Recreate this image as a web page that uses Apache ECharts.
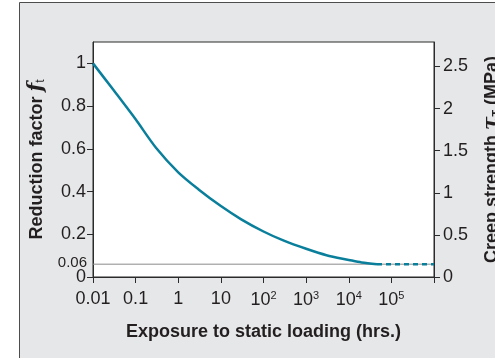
<!DOCTYPE html>
<html>
<head>
<meta charset="utf-8">
<script src="https://cdn.jsdelivr.net/npm/echarts@6/dist/echarts.min.js"></script>
<style>
  html, body { margin: 0; padding: 0; background: #fff; }
  #chart { width: 495px; height: 358px; }
</style>
</head>
<body>
<div id="chart"></div>
<script>
// exposure time (hrs) and reduction factor f_t
const exposureHrs = [0.01, 0.03, 0.1, 0.3, 1, 3, 10, 30, 100, 300, 1000, 3000, 10000, 20000, 46000];
const reductionFactor = [1.0, 0.876, 0.738, 0.605, 0.49, 0.41, 0.332, 0.27, 0.213, 0.17, 0.132, 0.102, 0.08, 0.068, 0.06];
// dashed tail where the factor stays at the limit
const tailHrs = [46000, 1000000];
const tailFactor = [0.06, 0.06];
const limitFactor = 0.06;
const leftTicks = [0, 0.2, 0.4, 0.6, 0.8, 1];
const rightTicks = [0, 0.5, 1, 1.5, 2, 2.5];

const FONT = "'Liberation Sans', Arial, sans-serif";
const TEXT = '#231f20';
const CURVE = '#0a7f9c';

const chart = echarts.init(document.getElementById('chart'));

const option = {
  animation: false,
  textStyle: {fontFamily: FONT},
  graphic: [
    {
      type: 'rect',
      z: -100,
      shape: {x: 19.5, y: 2.5, width: 520, height: 400},
      style: {fill: '#e6e7e8', stroke: '#4d4d4d', lineWidth: 1}
    }
  ],
  grid: {
    left: 93,
    right: 61,
    top: 42,
    bottom: 81,
    outerBoundsMode: 'none',
    show: true,
    backgroundColor: '#ffffff',
    borderColor: '#2b2b2b',
    borderWidth: 1
  },
  xAxis: {
    type: 'log',
    logBase: 10,
    min: 0.01,
    max: 1000000,
    name: 'Exposure to static loading (hrs.)',
    nameLocation: 'middle',
    nameGap: 46,
    nameTextStyle: {color: TEXT, fontSize: 18, fontWeight: 'bold', fontFamily: FONT},
    axisLine: {lineStyle: {color: '#2b2b2b'}},
    axisTick: {show: true, length: 6, lineStyle: {color: '#2b2b2b'}},
    minorTick: {show: false},
    splitLine: {show: false},
    axisLabel: {
      color: TEXT,
      fontSize: 18,
      margin: 13,
      fontFamily: FONT,
      formatter: function (v) {
        const e = Math.round(Math.log10(v));
        if (e >= 6) return '';
        if (e === -2) return '0.01';
        if (e === -1) return '0.1';
        if (e === 0) return '1';
        if (e === 1) return '10';
        return '{b|10}{s|' + e + '}';
      },
      rich: {
        b: {fontSize: 18, color: TEXT, fontFamily: FONT, lineHeight: 20},
        s: {fontSize: 11, color: TEXT, fontFamily: FONT, verticalAlign: 'top', lineHeight: 20, padding: [0, 0, 8, 0]}
      }
    }
  },
  yAxis: [
    {
      type: 'value',
      min: 0,
      max: 1.1,
      position: 'left',
      name: '{b|Reduction factor }{i|f}{t|t}',
      nameLocation: 'middle',
      nameGap: 44,
      nameTextStyle: {
        color: TEXT,
        rich: {
          b: {fontSize: 18, fontWeight: 'bold', color: TEXT, fontFamily: FONT},
          i: {fontSize: 20, fontWeight: 'bold', fontStyle: 'italic', color: TEXT, fontFamily: "'DejaVu Serif', serif"},
          t: {fontSize: 12, color: TEXT, fontFamily: FONT, verticalAlign: 'bottom', padding: [6, 0, 0, 0]}
        }
      },
      axisLine: {show: true, lineStyle: {color: '#2b2b2b'}},
      axisTick: {show: true, length: 6, customValues: leftTicks, lineStyle: {color: '#2b2b2b'}},
      splitLine: {show: false},
      axisLabel: {
        color: TEXT,
        fontSize: 18,
        margin: 7,
        fontFamily: FONT,
        customValues: leftTicks.concat([limitFactor]),
        formatter: function (v) {
          if (Math.abs(v - limitFactor) < 1e-9) return '{s|0.06}';
          return String(Math.round(v * 10) / 10);
        },
        rich: {
          s: {fontSize: 15, color: TEXT, fontFamily: FONT, padding: [0, -1, 2, 0]}
        }
      }
    },
    {
      type: 'value',
      min: 0,
      max: 2.79,
      position: 'right',
      name: '{b|Creep strength }{i|τ}{t|T}{b| (MPa)}',
      nameLocation: 'middle',
      nameGap: 48,
      nameRotate: 90,
      nameTextStyle: {
        color: TEXT,
        rich: {
          b: {fontSize: 18, fontWeight: 'bold', color: TEXT, fontFamily: FONT},
          i: {fontSize: 20, fontWeight: 'bold', fontStyle: 'italic', color: TEXT, fontFamily: "'DejaVu Serif', serif"},
          t: {fontSize: 11, fontWeight: 'bold', color: TEXT, fontFamily: FONT, verticalAlign: 'bottom', padding: [6, 0, 0, 0]}
        }
      },
      axisLine: {show: true, lineStyle: {color: '#2b2b2b'}},
      axisTick: {show: true, length: 6, customValues: rightTicks, lineStyle: {color: '#2b2b2b'}},
      splitLine: {show: false},
      axisLabel: {
        color: TEXT,
        fontSize: 18,
        margin: 9,
        fontFamily: FONT,
        customValues: rightTicks
      }
    }
  ],
  series: [
    {
      name: 'limit',
      type: 'line',
      yAxisIndex: 0,
      data: [[0.01, limitFactor], [1000000, limitFactor]],
      symbol: 'none',
      lineStyle: {color: '#8a8a8a', width: 1},
      z: 1
    },
    {
      name: 'f_t',
      type: 'line',
      yAxisIndex: 0,
      data: exposureHrs.map((x, i) => [x, reductionFactor[i]]),
      smooth: 0.3,
      symbol: 'none',
      lineStyle: {color: CURVE, width: 2.5},
      z: 3
    },
    {
      name: 'tail',
      type: 'line',
      yAxisIndex: 0,
      data: tailHrs.map((x, i) => [x, tailFactor[i]]),
      symbol: 'none',
      lineStyle: {color: CURVE, width: 2.5, type: [5, 4]},
      z: 3
    }
  ]
};

chart.setOption(option);
</script>
</body>
</html>
